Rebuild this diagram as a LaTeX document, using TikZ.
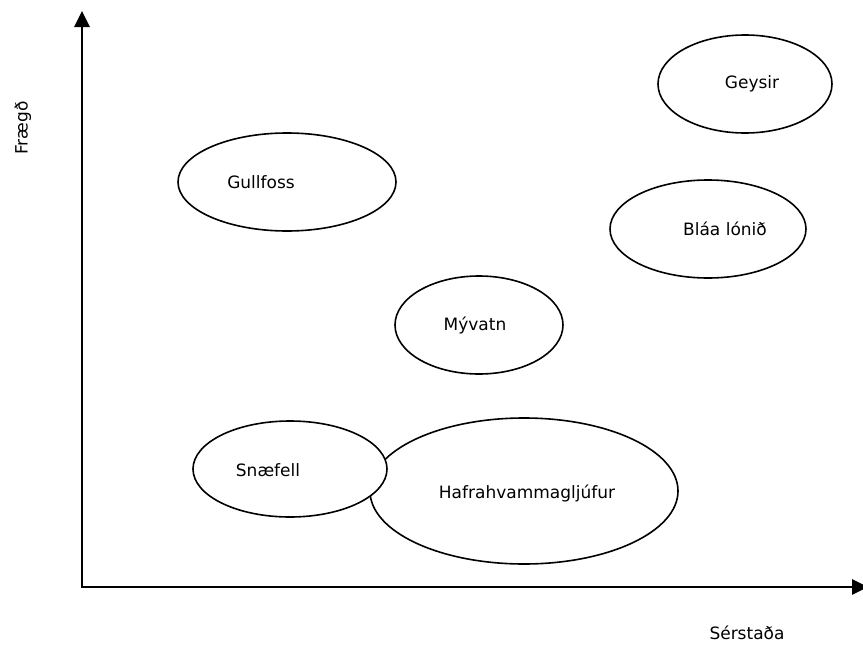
\documentclass[tikz,border=0pt]{standalone}
\usepackage{fontspec}
\setmainfont{DejaVu Sans}
\usetikzlibrary{shapes.geometric,arrows.meta}
\begin{document}
\begin{tikzpicture}[x=1pt,y=-1pt,
  spot/.style={draw=black,line width=1.6pt,fill=white,ellipse,inner sep=0pt},
  lbl/.style={font=\fontsize{17}{19}\selectfont},
  axis/.style={line width=2.8pt,-{Triangle[length=16pt,width=15pt]}}]
\useasboundingbox (0,0) rectangle (863,645);
% axes
\coordinate (origin) at (82,587);
\coordinate (ytop) at (82,11);
\coordinate (xend) at (868,587);
\draw[axis] (origin) -- (ytop);
\draw[axis] (origin) -- (xend);
\fill (80.6,585.6) rectangle (83.4,588.4);
% axis labels
\node[lbl,rotate=90] (ylab) at (23,128) {Frægð};
\node[lbl] (xlab) at (747,633) {Sérstaða};
% places
\node[spot,minimum width=174pt,minimum height=98pt] (geysir) at (745,84) {};
\node[lbl] at (752,84) {Geysir};
\node[spot,minimum width=196pt,minimum height=98pt] (blaa) at (708,229) {};
\node[lbl] at (725,229) {Bláa lónið};
\node[spot,minimum width=218pt,minimum height=98pt] (gullfoss) at (287,182) {};
\node[lbl] at (261,182) {Gullfoss};
\node[spot,minimum width=168pt,minimum height=98pt] (myvatn) at (479,325) {};
\node[lbl] at (475,325) {Mývatn};
\node[spot,minimum width=308pt,minimum height=146pt] (hafra) at (524,491) {};
\node[lbl] at (527,493) {Hafrahvammagljúfur};
\node[spot,minimum width=194pt,minimum height=96pt] (snaefell) at (290,469) {};
\node[lbl] at (268,470) {Snæfell};
\end{tikzpicture}
\end{document}
